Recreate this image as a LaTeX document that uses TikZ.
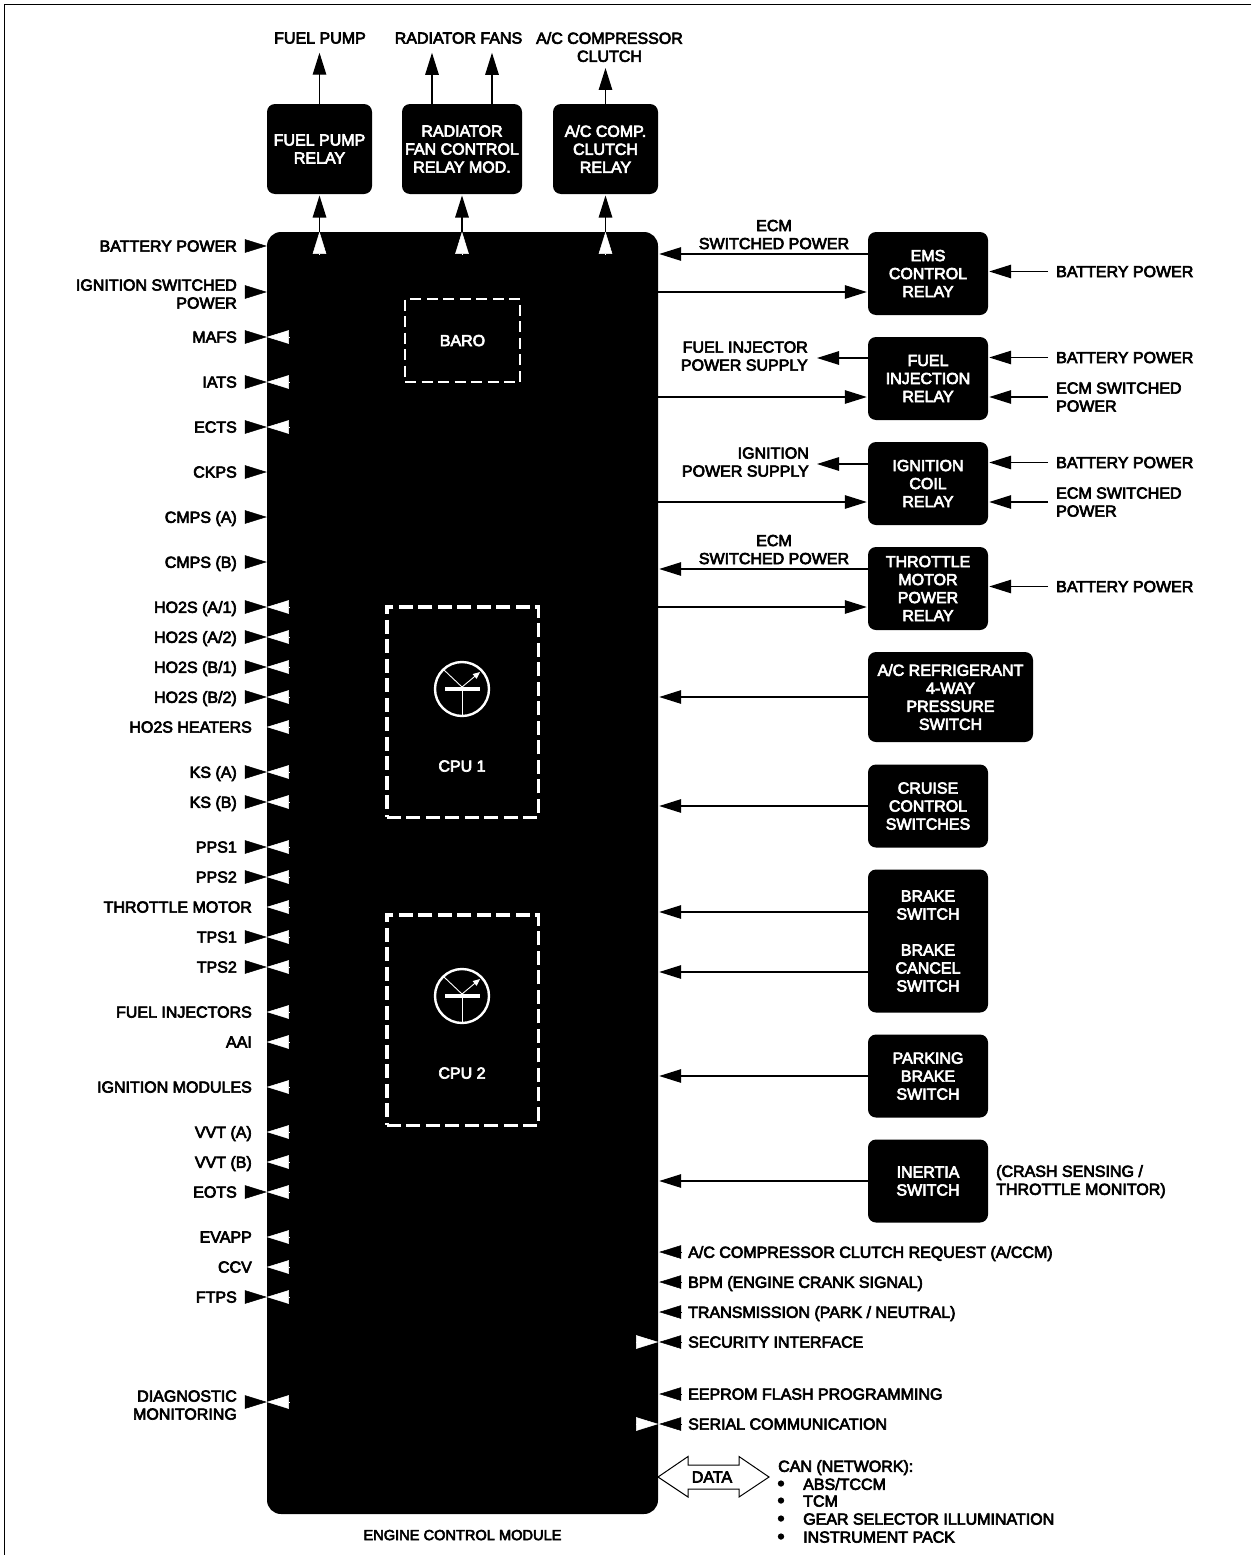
\documentclass[tikz,border=0pt]{standalone}
\usepackage{fontspec}
\setmainfont[FakeBold=4]{Liberation Sans}
\usetikzlibrary{arrows.meta,calc}
\tikzset{
  x=1pt,y=-1pt,
  txt/.style={inner sep=0pt,text depth=0pt,font=\fontsize{16}{18}\selectfont},
  lblL/.style={txt,align=right,anchor=east},
  lblR/.style={txt,align=left,anchor=west},
  lblC/.style={txt,align=center},
  relay/.style={txt,align=center,fill=black,text=white,rounded corners=8pt,
    minimum width=#1},
  relay/.default=120pt,
  arr/.style={line width=1.2pt,-{Triangle[length=22pt,width=13.5pt]}},
  btip/.style={line width=0.5pt,-{Triangle[length=22pt,width=13.5pt]}},
  wtip/.style={line width=0.5pt,white,-{Triangle[length=22pt,width=13.5pt]}},
  cpubox/.style={draw=white,line width=3.5pt,dash pattern=on 14pt off 5.5pt,
    minimum width=151.5pt,minimum height=210.5pt,inner sep=0pt},
  frameline/.style={line width=1.5pt},
}
% left labels: [label shift], name, y, text
\newcommand\InB[4][0pt]{\coordinate (#2a) at (237,#3);
  \node[lblL,yshift=-#1] (#2) at (#2a) {#4};
  \draw[btip,shorten <=8pt] (#2a) -- (ecm.west |- #2a);}
\newcommand\InBW[4][0pt]{\InB[#1]{#2}{#3}{#4}
  \draw[wtip] ($(ecm.west |- #2a)+(22,0)$) -- (ecm.west |- #2a);}
\newcommand\InW[3]{\node[lblL] (#1) at (252,#2) {#3};
  \draw[wtip] ($(ecm.west |- #1.east)+(22,0)$) -- (ecm.west |- #1.east);}
\newcommand\InR[3]{\node[lblR] (#1) at (688,#2) {#3};
  \draw[btip,shorten <=6pt] (#1.west) -- ($(ecm.east |- #1.west)+(1,0)$);}
\begin{document}
\begin{tikzpicture}
\useasboundingbox (0,0) rectangle (1251,1555);
\draw[frameline] (1251,4.5) -- (4.5,4.5) -- (4.5,1555);
% ECM
\node[fill=black,rounded corners=14pt,minimum width=391pt,minimum height=1282pt,inner sep=0pt] (ecm) at (462.5,873) {};
\node[txt,font=\fontsize{14.6}{16}\selectfont] (ecmlbl) at (462.5,1535) {ENGINE CONTROL MODULE};
% output relays
\node[relay=105pt,minimum height=90pt] (fp) at (319.5,149) {FUEL PUMP\\RELAY};
\node[relay=120pt,minimum height=90pt] (rad) at (462,149) {RADIATOR\\FAN CONTROL\\RELAY MOD.};
\node[relay=105pt,minimum height=90pt] (ac) at (605.5,149) {A/C COMP.\\CLUTCH\\RELAY};
\node[lblC] (fpl) at (320,38) {FUEL PUMP};
\node[lblC] (radl) at (458.5,38) {RADIATOR FANS};
\node[lblC] (acl) at (609.5,47) {A/C COMPRESSOR\\CLUTCH};
\draw[arr,shorten >=9pt] (fp.north) -- (fp.north |- fpl.south);
\draw[arr,shorten >=9pt] (rad.north -| 432,0) -- (radl.south -| 432,0);
\draw[arr,shorten >=9pt] (rad.north -| 492,0) -- (radl.south -| 492,0);
\draw[arr,shorten >=6pt] (ac.north) -- (ac.north |- acl.south);
\foreach \b in {fp,rad,ac}{
  \draw[arr,shorten >=1.3pt] (ecm.north -| \b.south) -- (\b.south);
  \draw[wtip] ($(ecm.north -| \b.south)+(0,22)$) -- (ecm.north -| \b.south);
}
% BARO / CPU
\node[txt,draw=white,line width=1.7pt,dash pattern=on 11pt off 5.5pt,text=white,minimum width=115pt,minimum height=83pt] (baro) at (462.5,340.5) {BARO};
\node[cpubox] (cpu1) at (462.5,712) {};
\node[cpubox] (cpu2) at (462.5,1020) {};
\node[txt,text=white] (cpu1l) at (462,766) {CPU 1};
\node[txt,text=white] (cpu2l) at (462,1073) {CPU 2};
\foreach \n/\y in {t1/689,t2/996}{
  \node[draw=white,line width=2.4pt,circle,minimum size=54pt,inner sep=0pt] (\n) at (462,\y) {};
  \fill[white] ($(\n)+(-17.5,-2)$) rectangle ($(\n)+(18,2)$);
  \draw[white,line width=0.9pt] (\n.center) -- (\n.south);
  \draw[white,line width=0.9pt] ($(\n)+(-18,-19)$) -- ($(\n)+(0,-2)$);
  \draw[white,line width=0.9pt,-{Triangle[length=7pt,width=6pt]}] ($(\n)+(0,-2)$) -- ($(\n)+(18,-17)$);
}
% left side
\InB{bat}{246}{BATTERY POWER}
\InB[2pt]{ign}{292}{IGNITION SWITCHED\\POWER}
\InBW{mafs}{337}{MAFS}
\InBW{iats}{382}{IATS}
\InBW{ects}{427}{ECTS}
\InB{ckps}{472}{CKPS}
\InB{cmpsa}{517}{CMPS (A)}
\InB{cmpsb}{562}{CMPS (B)}
\InBW{hoa}{607}{HO2S (A/1)}
\InBW{hob}{637}{HO2S (A/2)}
\InBW{hoc}{667}{HO2S (B/1)}
\InBW{hod}{697}{HO2S (B/2)}
\InW{hoh}{727}{HO2S HEATERS}
\InBW{ksa}{772}{KS (A)}
\InBW{ksb}{802}{KS (B)}
\InBW{ppsa}{847}{PPS1}
\InBW{ppsb}{877}{PPS2}
\InW{thm}{907}{THROTTLE MOTOR}
\InBW{tpsa}{937}{TPS1}
\InBW{tpsb}{967}{TPS2}
\InW{finj}{1012}{FUEL INJECTORS}
\InW{aai}{1042}{AAI}
\InW{igm}{1087}{IGNITION MODULES}
\InW{vvta}{1132}{VVT (A)}
\InW{vvtb}{1162}{VVT (B)}
\InBW{eots}{1192}{EOTS}
\InW{evapp}{1237}{EVAPP}
\InW{ccv}{1267}{CCV}
\InBW{ftps}{1297}{FTPS}
\InBW[3pt]{diag}{1402}{DIAGNOSTIC\\MONITORING}
% right relays
\node[relay,minimum height=83pt] (ems) at (928,273.5) {EMS\\CONTROL\\RELAY};
\node[relay,minimum height=83pt] (fir) at (928,378.5) {FUEL\\INJECTION\\RELAY};
\node[relay,minimum height=83pt] (icr) at (928,483.5) {IGNITION\\COIL\\RELAY};
\node[relay,minimum height=83pt] (tmr) at (928,588.5) {THROTTLE\\MOTOR\\POWER\\RELAY};
\node[relay=165pt,minimum height=90pt] (acr) at (950.5,697) {A/C REFRIGERANT\\4-WAY\\PRESSURE\\SWITCH};
\node[relay,minimum height=83pt] (ccs) at (928,806) {CRUISE\\CONTROL\\SWITCHES};
\node[relay,minimum height=143pt] (brk) at (928,941) {BRAKE\\SWITCH\\[18pt]BRAKE\\CANCEL\\SWITCH};
\node[relay,minimum height=83pt] (pbs) at (928,1076) {PARKING\\BRAKE\\SWITCH};
\node[relay,minimum height=83pt] (ine) at (928,1181) {INERTIA\\SWITCH};
% ECM <-> relays
\foreach \b/\y in {ems/292,fir/397,icr/502,tmr/607}
  \draw[arr,shorten >=1pt] (ecm.east |- 0,\y) -- (\b.west |- 0,\y);
\foreach \b/\y in {ems/254,tmr/569,acr/697,ccs/806,brk/912,brk/972,pbs/1076,ine/1181}
  \draw[arr] (\b.west |- 0,\y) -- ($(ecm.east |- 0,\y)+(1,0)$);
% right-hand labels
\node[lblC] (esw1) at (774,234.5) {ECM\\SWITCHED POWER};
\node[lblC] (esw2) at (774,549.5) {ECM\\SWITCHED POWER};
\node[lblL] (fips) at (808,356) {FUEL INJECTOR\\POWER SUPPLY};
\node[lblL] (igps) at (809,462) {IGNITION\\POWER SUPPLY};
\draw[arr,shorten >=9pt] (fir.west |- 0,358) -- (fips.east |- 0,358);
\draw[arr,shorten >=8pt] (icr.west |- 0,464) -- (igps.east |- 0,464);
\foreach \n/\b/\y in {ba/ems/271.5,bb/fir/357.5,bc/icr/462.5,bd/tmr/586.5}{
  \node[lblR] (\n) at (1056,\y) {BATTERY POWER};
  \draw[arr,shorten <=8pt,shorten >=1pt] (\n.west) -- (\b.east |- \n.west);
}
\foreach \n/\b/\y in {ea/fir/397,eb/icr/502}{
  \node[lblR] (\n) at (1056,\y) {ECM SWITCHED\\POWER};
  \draw[arr,shorten <=8pt,shorten >=1pt] (\n.west) -- (\b.east |- \n.west);
}
\node[lblR] (crash) at (996,1180) {(CRASH SENSING /\\THROTTLE MONITOR)};
% lower right
\InR{acreq}{1252}{A/C COMPRESSOR CLUTCH REQUEST (A/CCM)}
\InR{bpm}{1282}{BPM (ENGINE CRANK SIGNAL)}
\InR{trans}{1312}{TRANSMISSION (PARK / NEUTRAL)}
\InR{sec}{1342}{SECURITY INTERFACE}
\InR{eep}{1394}{EEPROM FLASH PROGRAMMING}
\InR{ser}{1424}{SERIAL COMMUNICATION}
\foreach \n in {sec,ser}
  \draw[wtip] ($(ecm.east |- \n.west)+(-22,0)$) -- (ecm.east |- \n.west);
% data arrow
\draw[line width=1pt,fill=white] (658,1477) -- (688,1456.5) -- (688,1465) -- (739,1465) -- (739,1456.5) -- (769,1477) -- (739,1497) -- (739,1489) -- (688,1489) -- (688,1497) -- cycle;
\node[txt] (data) at (712,1477) {DATA};
\node[lblR] (can) at (778,1466) {CAN (NETWORK):};
\foreach \n/\y/\t in {ca/1484/{ABS/TCCM},cb/1501/{TCM},cc/1519/{GEAR SELECTOR ILLUMINATION},cd/1537/{INSTRUMENT PACK}}{
  \node[txt,font=\fontsize{20}{20}\selectfont,yshift=-1.5pt] (\n b) at (781,\y) {•};
  \node[lblR] (\n) at (803,\y) {\t};
}
\end{tikzpicture}
\end{document}
